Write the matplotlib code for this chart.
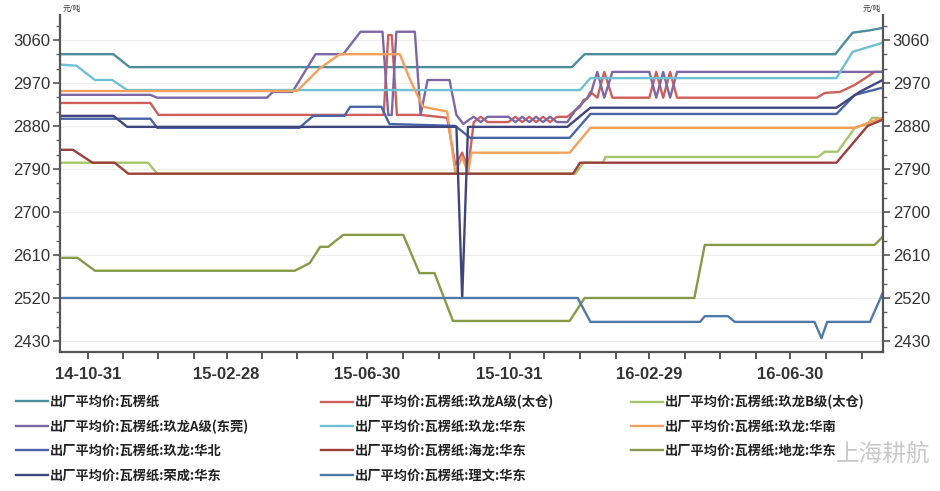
import matplotlib
matplotlib.use("Agg")
import matplotlib.pyplot as plt
import matplotlib.dates as mdates
from matplotlib.lines import Line2D
import numpy as np
import pandas as pd

plt.rcParams['font.family'] = ['Liberation Sans', 'Noto Sans CJK SC', 'DejaVu Sans']

BASE_DATE = "2014-10-01"   # x values below are day offsets from this date

# ---------------- data (day offset, price 元/吨) ----------------
wl_days = [7, 52, 66, 449, 460, 677, 692, 707, 718]
wl_vals = [3030, 3030, 3003, 3003, 3030, 3030, 3075, 3080, 3085]

jla_tc_days = [7, 84, 91, 286, 290, 293, 297.5, 318, 341, 348, 354, 359,
               364, 370, 376, 394, 400, 406, 412, 418, 424, 430, 436, 445,
               450, 456, 459, 462, 465, 471,
               477, 484, 516, 522, 528, 534, 540,
               545, 661, 668, 681, 694, 703, 711, 718]
jla_tc_vals = [2928, 2928, 2903, 2903, 3070, 3070, 2903, 2903, 2897, 2798, 2824, 2788,
               2888, 2899, 2888, 2888, 2899, 2888, 2899, 2888, 2899, 2888, 2899, 2899,
               2909, 2920, 2934, 2937, 2951, 2939,
               2993, 2939, 2939, 2993, 2939, 2993, 2939,
               2939, 2939, 2949, 2951, 2966, 2980, 2993, 2993]

jlb_tc_days = [7, 82, 90, 452, 459, 476, 478, 662, 668, 679, 694, 705, 709, 713, 718]
jlb_tc_vals = [2803, 2803, 2780, 2780, 2803, 2803, 2815, 2815, 2826, 2826, 2876, 2884, 2897, 2897, 2893]

jla_dg_days = [7, 84, 90, 185, 190, 207, 227, 251, 266, 285, 290, 293, 297, 313, 318, 324,
               343, 349, 355, 360,
               364, 370, 376, 394, 400, 406, 412, 418, 424, 430, 436, 445,
               452, 465, 471,
               477, 484, 516, 522, 528, 534, 540,
               545, 718]
jla_dg_vals = [2945, 2945, 2939, 2939, 2951, 2951, 3030, 3030, 3077, 3077, 2903, 2903, 3077, 3077, 2903, 2976,
               2976, 2903, 2884, 2893,
               2899, 2888, 2899, 2899, 2888, 2899, 2888, 2899, 2888, 2899, 2888, 2888,
               2913, 2945, 2993,
               2939, 2993, 2993, 2939, 2993, 2939, 2993,
               2993, 2993]

jl_hd_days = [7, 20, 36, 51, 64, 456, 465, 678, 692, 718]
jl_hd_vals = [3008, 3006, 2976, 2976, 2955, 2955, 2980, 2980, 3035, 3054]

jl_hn_days = [7, 211, 231, 248, 300, 309, 320, 341, 348, 354, 359, 362, 447, 465, 694, 707, 718]
jl_hn_vals = [2953, 2953, 3001, 3030, 3030, 2976, 2920, 2910, 2782, 2815, 2782, 2824, 2824, 2876, 2876, 2888, 2897]

jl_hb_days = [7, 84, 90, 213, 225, 252, 257, 284, 291, 348, 361, 447, 465, 678, 694, 718]
jl_hb_vals = [2895, 2895, 2876, 2876, 2901, 2901, 2920, 2920, 2884, 2880, 2855, 2855, 2905, 2905, 2945, 2960]

hl_hd_days = [7, 17, 34, 53, 65, 450, 456, 678, 705, 718]
hl_hd_vals = [2830, 2830, 2803, 2803, 2780, 2780, 2803, 2803, 2880, 2893]

dl_hd_days = [8, 21, 36, 209, 222, 231, 238, 251, 303, 317, 330, 346, 447, 460, 555, 564, 711, 718]
dl_hd_vals = [2604, 2604, 2577, 2577, 2593, 2627, 2627, 2652, 2652, 2572, 2572, 2472, 2472, 2520, 2520, 2631, 2631, 2648]

rc_hd_days = [7, 52, 64, 349, 354, 359, 445, 465, 678, 698, 718]
rc_hd_vals = [2901, 2901, 2878, 2878, 2520, 2878, 2878, 2918, 2918, 2951, 2976]

lw_hd_days = [7, 454, 465, 560, 564, 584, 590, 659, 665, 670, 707, 718]
lw_hd_vals = [2520, 2520, 2470, 2470, 2482, 2482, 2470, 2470, 2436, 2470, 2470, 2530]

labels = ["出厂平均价:瓦楞纸", "出厂平均价:瓦楞纸:玖龙A级(太仓)", "出厂平均价:瓦楞纸:玖龙B级(太仓)",
          "出厂平均价:瓦楞纸:玖龙A级(东莞)", "出厂平均价:瓦楞纸:玖龙:华东", "出厂平均价:瓦楞纸:玖龙:华南",
          "出厂平均价:瓦楞纸:玖龙:华北", "出厂平均价:瓦楞纸:海龙:华东", "出厂平均价:瓦楞纸:地龙:华东",
          "出厂平均价:瓦楞纸:荣成:华东", "出厂平均价:瓦楞纸:理文:华东"]
colors = ["#4e8b9b", "#cf5f5a", "#a6c46a", "#7d68a6", "#6ec0d2", "#f5a05a",
          "#4a64a8", "#9c3f3c", "#869a48", "#3f467e", "#4f7aa8"]

series = [(wl_days, wl_vals), (jla_tc_days, jla_tc_vals), (jlb_tc_days, jlb_tc_vals),
          (jla_dg_days, jla_dg_vals), (jl_hd_days, jl_hd_vals), (jl_hn_days, jl_hn_vals),
          (jl_hb_days, jl_hb_vals), (hl_hd_days, hl_hd_vals), (dl_hd_days, dl_hd_vals),
          (rc_hd_days, rc_hd_vals), (lw_hd_days, lw_hd_vals)]

yticks = [2430, 2520, 2610, 2700, 2790, 2880, 2970, 3060]
xtick_dates = ["2014-10-31", "2015-02-28", "2015-06-30", "2015-10-31", "2016-02-29", "2016-06-30"]

base = pd.Timestamp(BASE_DATE)
def to_dates(days):
    return base + pd.to_timedelta(np.asarray(days, dtype=float), unit="D")

fig = plt.figure(figsize=(9.4, 4.91), dpi=100)
ax = fig.add_axes([60/940, 139/491, 823/940, 337/491])

handles = []
for (d, v), lab, c in zip(series, labels, colors):
    h, = ax.plot(to_dates(d), v, color=c, lw=1.7, label=lab, solid_joinstyle="round")
    handles.append(h)

ax.set_ylim(2407, 3112)
ax.set_xlim(to_dates([5.8])[0], to_dates([718.3])[0])
ax.set_yticks(yticks)
ax.yaxis.set_minor_locator(matplotlib.ticker.MultipleLocator(30))
ax.grid(axis="y", color="#eeeeee", lw=0.8)
ax.set_axisbelow(True)

ax.xaxis.set_major_locator(matplotlib.ticker.FixedLocator(mdates.date2num(pd.to_datetime(xtick_dates))))
ax.xaxis.set_minor_locator(mdates.MonthLocator(bymonthday=-1))
ax.xaxis.set_major_formatter(mdates.DateFormatter("%y-%m-%d"))

for s in ["left", "right", "bottom"]:
    ax.spines[s].set_color("#555555")
    ax.spines[s].set_linewidth(1.6)
ax.spines["top"].set_visible(False)

ax.tick_params(axis="y", which="major", direction="out", length=5, width=1.2, color="#555555",
               labelsize=12, labelcolor="#333333", left=True, right=True, labelleft=True, labelright=True, pad=2)
ax.tick_params(axis="y", which="minor", direction="out", length=3, width=1.0, color="#666666", left=True, right=True)
ax.tick_params(axis="x", which="both", direction="out", length=5, width=1.4, color="#555555")
ax.tick_params(axis="x", which="major", labelsize=12, labelcolor="#333333", pad=6)
for t in ax.get_xticklabels():
    t.set_fontweight("bold")

ax.text(0.003, 1.005, "元/吨", transform=ax.transAxes, fontsize=5.5, ha="left", va="bottom",
        family=["Noto Sans CJK SC"], color="#333333")
ax.text(0.997, 1.005, "元/吨", transform=ax.transAxes, fontsize=5.5, ha="right", va="bottom",
        family=["Noto Sans CJK SC"], color="#333333")

# legend: three columns, row-major order
col_groups = [[0, 3, 6, 9], [1, 4, 7, 10], [2, 5, 8]]
col_x = [16/940, 321/940, 631/940]
for grp, cx in zip(col_groups, col_x):
    leg = fig.legend([handles[i] for i in grp], [labels[i] for i in grp], loc="upper left",
                     bbox_to_anchor=(cx, 96/491), frameon=False, borderpad=0, borderaxespad=0,
                     handlelength=2.4, handletextpad=0.2, labelspacing=0.78,
                     prop={"family": ["Noto Sans CJK SC", "DejaVu Sans"], "size": 9.5, "weight": "bold"})
    for t in leg.get_texts():
        t.set_color("#222222")

fig.text(0.99, 0.075, "上海耕航", fontsize=17, color="#bbbbbb", alpha=0.8, ha="right", va="center",
         family=["Noto Sans CJK SC"])

fig.savefig("out.png", dpi=100)
